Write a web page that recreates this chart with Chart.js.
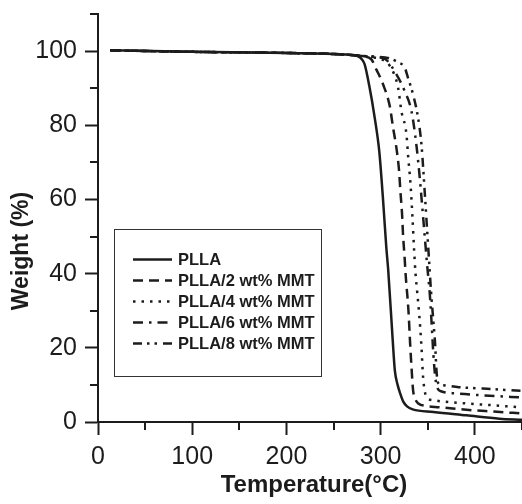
<!DOCTYPE html>
<html>
<head>
<meta charset="utf-8">
<script src="https://cdn.jsdelivr.net/npm/chart.js@4/dist/chart.umd.min.js"></script>
<style>
html,body{margin:0;padding:0;background:#fff;}
#wrap{width:522px;height:504px;position:relative;}
canvas{display:block;}
</style>
</head>
<body>
<div id="wrap"><canvas id="c" width="522" height="504"></canvas></div>
<script>
// ---- Data ----
const seriesLabels = ['PLLA', 'PLLA/2 wt% MMT', 'PLLA/4 wt% MMT', 'PLLA/6 wt% MMT', 'PLLA/8 wt% MMT'];

const pllaT = [13, 100, 200, 260, 276, 280, 283, 288, 293.7, 298.5, 302.5, 306, 308, 312.8, 315, 318, 321, 324, 328, 334, 356, 391, 426, 450];
const pllaW = [100.2, 99.8, 99.5, 99.1, 98.6, 97.8, 96.4, 90.5, 82, 73, 60, 47, 41, 22, 14, 10, 7.5, 5.5, 4.2, 3.4, 2.7, 1.8, 0.9, 0.6];

const mmt2T = [13, 100, 200, 260, 280, 290, 295.5, 302.6, 309.7, 313.2, 316.7, 319.5, 321, 322.7, 323.8, 325.3, 326.6, 329.5, 331.3, 332.8, 334.4, 337, 340, 348.6, 362, 391, 420, 450];
const mmt2W = [100.2, 99.8, 99.5, 99.1, 98.6, 97.8, 95, 91, 85.1, 79.3, 73.9, 67.8, 62, 56.1, 50.2, 44.8, 39.4, 30, 21, 14.5, 8.6, 6, 5, 4.3, 4.0, 3.3, 2.8, 2.3];

const mmt4T = [13, 100, 200, 260, 280, 290, 300.8, 309.7, 318.5, 322, 327.4, 329, 331.6, 333.7, 335.5, 337, 338.6, 340.8, 343.3, 345, 348.6, 355, 391, 420, 450];
const mmt4W = [100.2, 99.8, 99.5, 99.1, 98.7, 98.4, 97.8, 96, 90.1, 83.8, 77.5, 72.1, 64.4, 55.4, 46.4, 40, 35.5, 29.3, 20.3, 12.2, 6.8, 5.9, 5.0, 4.5, 3.9];

const mmt6T = [13, 100, 200, 260, 280, 290, 305, 316.7, 325, 332.7, 338, 341.5, 344.4, 346.8, 349.3, 352, 354, 356, 358, 360.5, 364, 380, 408.7, 450];
const mmt6W = [100.2, 99.8, 99.5, 99.1, 98.7, 98.5, 97.8, 93.7, 89.5, 83.8, 74.5, 65.8, 57.2, 50, 42.4, 35, 27, 18, 12, 9.0, 8.3, 7.7, 7.2, 6.6];

const mmt8T = [13, 100, 200, 260, 280, 295, 310, 318, 325.6, 329, 334.4, 339.7, 343.3, 345.5, 347.5, 349.5, 351.5, 353.5, 356, 357.8, 359.2, 361, 366, 383, 408.7, 450];
const mmt8W = [100.2, 99.8, 99.5, 99.1, 98.7, 98.5, 98, 97, 95.5, 92.8, 88.3, 82, 74.8, 67, 59, 51, 43, 35, 27, 21, 14, 10.5, 9.9, 9.4, 9.0, 8.4];

const xTickValues = [0, 100, 200, 300, 400];
const xMinorTicks = [50, 150, 250, 350, 450];
const yTickValues = [0, 20, 40, 60, 80, 100];
const yMinorTicks = [10, 30, 50, 70, 90, 110];

const xTitle = 'Temperature(\u00B0C)';
const yTitle = 'Weight (%)';

// ---- Styling ----
const INK = '#1c1c1c';
const FONT = '"Liberation Sans", Arial, Helvetica, sans-serif';
const dashes = [[], [10, 6], [2.5, 6], [10, 6, 2.5, 6], [9, 5, 2.5, 5, 2.5, 6]];

const seriesT = [pllaT, mmt2T, mmt4T, mmt6T, mmt8T];
const seriesW = [pllaW, mmt2W, mmt4W, mmt6W, mmt8W];

const datasets = seriesLabels.map((lab, i) => ({
  label: lab,
  data: seriesT[i].map((t, k) => ({x: t, y: seriesW[i][k]})),
  borderColor: INK,
  backgroundColor: INK,
  borderWidth: 2.5,
  borderDash: dashes[i],
  pointRadius: 0,
  fill: false,
  cubicInterpolationMode: 'monotone'
}));

// minor ticks + axis titles + legend box
const decorPlugin = {
  id: 'decor',
  afterDraw(chart) {
    const ctx = chart.ctx;
    const xs = chart.scales.x, ys = chart.scales.y;
    const ca = chart.chartArea;
    ctx.save();
    ctx.strokeStyle = INK;
    ctx.lineWidth = 2;
    ctx.setLineDash([]);
    // minor ticks
    yMinorTicks.forEach(v => {
      const py = Math.round(ys.getPixelForValue(v));
      ctx.beginPath();
      ctx.moveTo(ca.left - 8, py);
      ctx.lineTo(ca.left, py);
      ctx.stroke();
    });
    xMinorTicks.forEach(v => {
      const px = Math.round(xs.getPixelForValue(v));
      ctx.beginPath();
      ctx.moveTo(px, ca.bottom);
      ctx.lineTo(px, ca.bottom + 8);
      ctx.stroke();
    });
    // axis titles
    ctx.fillStyle = INK;
    ctx.font = 'bold 24px ' + FONT;
    ctx.textAlign = 'center';
    ctx.textBaseline = 'middle';
    ctx.fillText(xTitle, ca.left + 216, ca.bottom + 63);
    ctx.save();
    ctx.translate(22, ca.top + 237);
    ctx.rotate(-Math.PI / 2);
    ctx.font = 'bold 23px ' + FONT;
    ctx.fillText(yTitle, 0, 0);
    ctx.restore();
    // legend
    const bx = ca.left + 16, by = ca.top + 214.5, bw = 207, bh = 147;
    ctx.lineWidth = 1;
    ctx.strokeStyle = '#333';
    ctx.strokeRect(Math.round(bx) + 0.5, Math.round(by) + 0.5, bw, bh);
    ctx.font = 'bold 16.5px ' + FONT;
    ctx.textAlign = 'left';
    ctx.textBaseline = 'middle';
    chart.data.datasets.forEach((ds, i) => {
      const ry = by + 31 + i * 21;
      ctx.strokeStyle = INK;
      ctx.lineWidth = 2.5;
      ctx.setLineDash(ds.borderDash || []);
      ctx.beginPath();
      ctx.moveTo(bx + 19, ry);
      ctx.lineTo(bx + 58, ry);
      ctx.stroke();
      ctx.setLineDash([]);
      ctx.fillStyle = INK;
      ctx.fillText(ds.label, bx + 64, ry + 1);
    });
    ctx.restore();
  }
};

new Chart(document.getElementById('c'), {
  type: 'line',
  data: {datasets},
  options: {
    responsive: false,
    animation: false,
    devicePixelRatio: 1,
    layout: {padding: {top: 14, right: 0, left: 0, bottom: 0}},
    plugins: {legend: {display: false}, tooltip: {enabled: false}, title: {display: false}},
    scales: {
      x: {
        type: 'linear',
        min: 0,
        max: 450,
        afterBuildTicks(s) { s.ticks = xTickValues.map(v => ({value: v})); },
        afterFit(s) { s.height = 82; s.paddingLeft = 0; s.paddingRight = 0; },
        grid: {drawOnChartArea: false, drawTicks: true, tickLength: 13, tickWidth: 2, tickColor: INK},
        border: {display: true, color: INK, width: 2},
        ticks: {color: INK, font: {family: FONT, size: 25}, padding: 7, maxRotation: 0, autoSkip: false},
        title: {display: false}
      },
      y: {
        type: 'linear',
        min: 0,
        max: 110,
        afterBuildTicks(s) { s.ticks = yTickValues.map(v => ({value: v})); },
        afterFit(s) { s.width = 98; s.paddingTop = 0; s.paddingBottom = 0; },
        grid: {drawOnChartArea: false, drawTicks: true, tickLength: 13, tickWidth: 2, tickColor: INK},
        border: {display: true, color: INK, width: 2},
        ticks: {color: INK, font: {family: FONT, size: 25}, padding: 8, autoSkip: false},
        title: {display: false}
      }
    }
  },
  plugins: [decorPlugin]
});
</script>
</body>
</html>
